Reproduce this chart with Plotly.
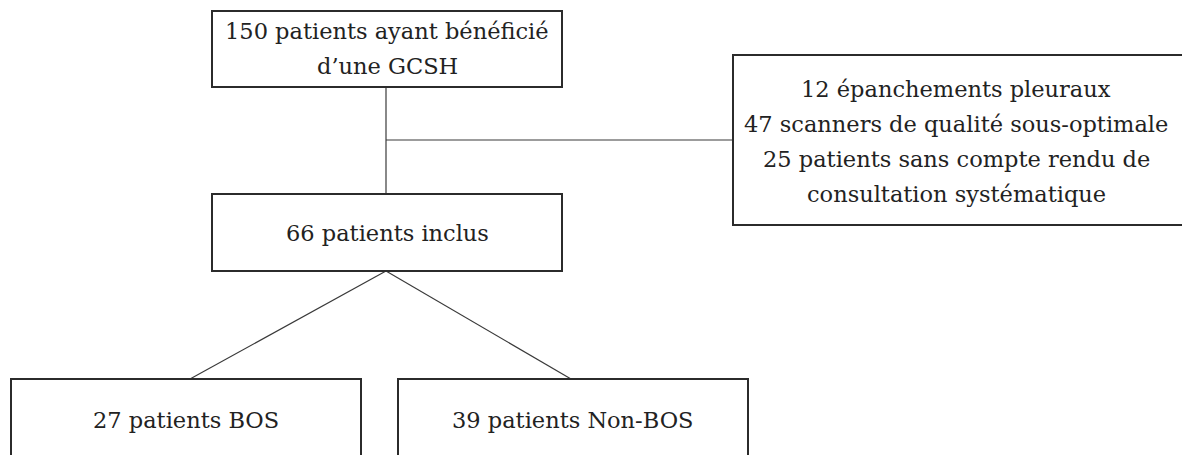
import plotly.graph_objects as go

# flowchart nodes, one list of text lines per box
labels = [
    ["150 patients ayant bénéficié", "d’une GCSH"],
    ["66 patients inclus"],
    ["12 épanchements pleuraux", "47 scanners de qualité sous-optimale",
     "25 patients sans compte rendu de", "consultation systématique"],
    ["27 patients BOS"],
    ["39 patients Non-BOS"],
]
# box edges in pixel units: x0, x1, y0, y1
box_x0 = [212, 212, 733, 11, 398]
box_x1 = [562, 562, 1186, 361, 748]
box_y0 = [11, 194, 55, 379, 379]
box_y1 = [87, 271, 225, 470, 470]
text_x = [387, 387, 956, 186, 573]
text_y = [48, 233, 141, 420, 420]
line_gap = 35

# connectors
link_x = [[386, 386], [386, 733], [386, 190], [386, 571]]
link_y = [[87, 194], [140, 140], [271, 379], [271, 379]]

fig = go.Figure()

for lx, ly in zip(link_x, link_y):
    fig.add_trace(go.Scatter(
        x=lx, y=ly, mode='lines',
        line=dict(color='#3a3a3a', width=1.2),
        hoverinfo='skip', showlegend=False
    ))

for i, lines in enumerate(labels):
    fig.add_shape(
        type='rect',
        x0=box_x0[i], x1=box_x1[i], y0=box_y0[i], y1=box_y1[i],
        line=dict(color='#2b2b2b', width=2),
        fillcolor='rgba(0,0,0,0)', layer='above'
    )
    n = len(lines)
    for j, txt in enumerate(lines):
        fig.add_annotation(
            x=text_x[i], y=text_y[i] + (j - (n - 1) / 2) * line_gap,
            text=txt, showarrow=False, xanchor='center', yanchor='middle',
            font=dict(family='DejaVu Serif', size=22.5, color='#222222')
        )

fig.update_layout(
    width=1182, height=455,
    margin=dict(l=0, r=0, t=0, b=0),
    paper_bgcolor='white',
    plot_bgcolor='white',
    xaxis=dict(range=[0, 1182], visible=False, fixedrange=True),
    yaxis=dict(range=[455, 0], visible=False, fixedrange=True),
)

fig.write_html("out.html", config={'displayModeBar': False},
               post_script="document.body.style.margin='0';")
